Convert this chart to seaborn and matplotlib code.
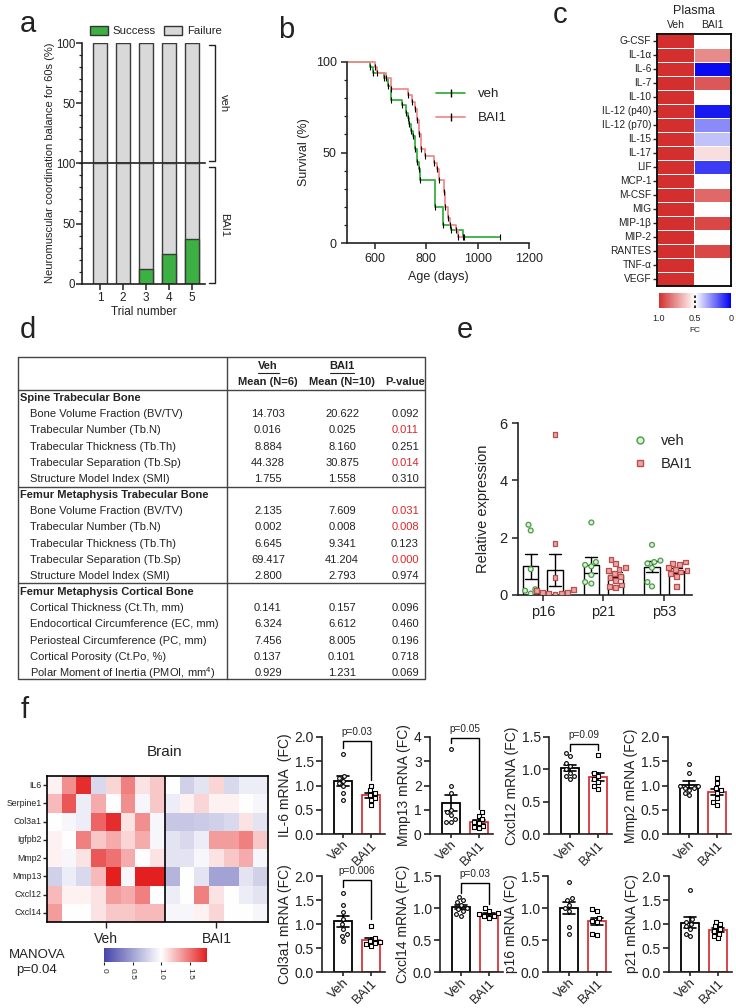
import seaborn as sns
import matplotlib.pyplot as plt
import matplotlib.colors as mcolors
from matplotlib.lines import Line2D
from matplotlib.patches import Patch
from matplotlib.ticker import MultipleLocator, FormatStrFormatter
import numpy as np
import pandas as pd

W, H = 736, 1008

# ---- a: balance test ----
trials = [1, 2, 3, 4, 5]
veh_success = [0, 0, 0, 0, 0]
veh_failure = [100, 100, 100, 100, 100]
bai_success = [0, 0, 12.5, 25, 37.5]
bai_failure = [100, 100, 87.5, 75, 62.5]

# ---- b: survival ----
veh_days = [492, 583, 593, 635, 650, 663, 707, 720, 728, 735, 742, 750, 757, 764, 771, 777, 835, 866, 898, 943, 1088]
veh_surv = [100, 97, 94, 91, 87, 79, 76, 72, 69, 66, 62, 59, 52, 45, 41, 35, 20, 10, 7, 3.5, 3.5]
bai_days = [492, 600, 610, 644, 663, 730, 743, 758, 765, 771, 781, 797, 832, 841, 851, 868, 874, 883, 892, 915, 922, 948]
bai_surv = [100, 97, 94, 91, 85, 82, 78, 74, 68, 60, 52, 48, 44, 41, 35, 28, 20, 14, 10, 7, 3.5, 3.5]

# ---- c: plasma cytokines (FC) ----
cytokines = ['G-CSF', 'IL-1α', 'IL-6', 'IL-7', 'IL-10', 'IL-12 (p40)', 'IL-12 (p70)', 'IL-15', 'IL-17',
             'LIF', 'MCP-1', 'M-CSF', 'MIG', 'MIP-1β', 'MIP-2', 'RANTES', 'TNF-α', 'VEGF']
plasma_veh = [1.0, 1.0, 1.0, 1.0, 1.0, 1.0, 1.0, 1.0, 1.0, 1.0, 1.0, 1.0, 1.0, 1.0, 1.0, 1.0, 1.0, 1.0]
plasma_bai = [0.5, 0.78, 0.02, 0.9, 0.5, 0.05, 0.27, 0.38, 0.58, 0.12, 0.5, 0.86, 0.5, 0.94, 0.5, 0.94, 0.5, 0.5]

# ---- d: micro-CT table ----
sections = ['Spine Trabecular Bone', 'Femur Metaphysis Trabecular Bone', 'Femur Metaphysis Cortical Bone']
trab_params = ['Bone Volume Fraction (BV/TV)', 'Trabecular Number (Tb.N)', 'Trabecular Thickness (Tb.Th)',
               'Trabecular Separation (Tb.Sp)', 'Structure Model Index (SMI)']
cort_params = ['Cortical Thickness (Ct.Th, mm)', 'Endocortical Circumference (EC, mm)',
               'Periosteal Circumference (PC, mm)', 'Cortical Porosity (Ct.Po, %)',
               'Polar Moment of Inertia (PMOI, mm$^4$)']
spine_veh = ['14.703', '0.016', '8.884', '44.328', '1.755']
spine_bai = ['20.622', '0.025', '8.160', '30.875', '1.558']
spine_p = ['0.092', '0.011', '0.251', '0.014', '0.310']
femur_veh = ['2.135', '0.002', '6.645', '69.417', '2.800']
femur_bai = ['7.609', '0.008', '9.341', '41.204', '2.793']
femur_p = ['0.031', '0.008', '0.123', '0.000', '0.974']
cort_veh = ['0.141', '6.324', '7.456', '0.137', '0.929']
cort_bai = ['0.157', '6.612', '8.005', '0.101', '1.231']
cort_p = ['0.096', '0.460', '0.196', '0.718', '0.069']

# ---- e: senescence markers ----
e_genes = ['p16', 'p21', 'p53']
p16_veh = [2.45, 2.25, 0.9, 0.2, 0.15, 0.05]
p16_bai = [5.6, 1.8, 0.6, 0.2, 0.15, 0.1, 0.1, 0.05, 0.05, 0.03]
p21_veh = [2.53, 1.15, 1.05, 1.0, 0.7, 0.45, 0.4]
p21_bai = [1.25, 1.1, 0.95, 0.9, 0.85, 0.75, 0.65, 0.6, 0.5, 0.35, 0.3, 0.25]
p53_veh = [1.75, 1.2, 1.15, 1.1, 0.95, 0.45, 0.3]
p53_bai = [1.15, 1.1, 1.05, 0.95, 0.9, 0.85, 0.8, 0.75, 0.65, 0.3]

# ---- f: brain heatmap ----
brain_genes = ['IL6', 'Serpine1', 'Col3a1', 'Igfpb2', 'Mmp2', 'Mmp13', 'Cxcl12', 'Cxcl14']
brain_veh = [[1.05, 1.4, 1.75, 0.8, 1.15, 1.45, 1.1, 1.2],
             [1.25, 1.6, 0.9, 1.3, 1.0, 1.4, 0.95, 1.2],
             [1.0, 0.95, 0.9, 1.55, 1.75, 1.1, 1.4, 0.95],
             [1.05, 1.0, 1.45, 1.2, 1.3, 1.15, 1.3, 0.95],
             [1.05, 0.95, 1.1, 1.6, 1.5, 1.3, 1.0, 1.1],
             [0.75, 0.9, 0.8, 1.25, 1.8, 0.95, 1.8, 1.8],
             [1.25, 1.05, 1.05, 1.1, 1.35, 1.3, 1.45, 1.0],
             [1.35, 1.0, 1.0, 1.1, 1.2, 1.2, 1.25, 1.25]]
brain_bai = [[1.0, 0.75, 0.85, 1.15, 0.8, 0.9, 0.9],
             [0.9, 1.05, 1.15, 1.05, 1.05, 1.0, 0.95],
             [0.7, 0.7, 0.72, 0.75, 0.8, 1.1, 0.85],
             [0.85, 0.8, 0.9, 1.35, 1.35, 1.45, 1.2],
             [0.85, 0.85, 0.95, 1.1, 1.2, 1.3, 0.95],
             [0.6, 1.0, 0.85, 0.5, 0.5, 0.85, 0.75],
             [0.9, 1.0, 1.45, 1.1, 1.0, 0.9, 0.85],
             [0.95, 0.95, 1.05, 1.15, 1.0, 1.0, 0.95]]

# ---- f: qPCR bars ----
il6_veh = [1.65, 1.2, 1.15, 1.1, 1.05, 1.0, 0.85, 0.7]
il6_bai = [1.0, 0.9, 0.85, 0.8, 0.75, 0.7, 0.6]
mmp13_veh = [3.5, 2.0, 1.7, 1.0, 0.9, 0.8, 0.6, 0.5, 0.5]
mmp13_bai = [0.9, 0.75, 0.6, 0.5, 0.45, 0.35, 0.3, 0.25]
cxcl12_veh = [1.25, 1.2, 1.1, 1.05, 1.0, 0.95, 0.9, 0.9, 0.85]
cxcl12_bai = [1.22, 0.95, 0.9, 0.85, 0.8, 0.75, 0.7]
mmp2_veh = [1.45, 1.25, 1.0, 1.0, 0.95, 0.95, 0.9, 0.85, 0.8]
mmp2_bai = [1.15, 1.05, 0.95, 0.9, 0.85, 0.75, 0.65, 0.6]
col3a1_veh = [1.65, 1.4, 1.25, 1.1, 1.0, 0.9, 0.8, 0.75, 0.65]
col3a1_bai = [0.95, 0.7, 0.65, 0.62, 0.6, 0.58, 0.55]
cxcl14_veh = [1.17, 1.12, 1.1, 1.05, 1.0, 0.98, 0.95, 0.9, 0.88]
cxcl14_bai = [1.0, 0.95, 0.92, 0.9, 0.88, 0.87, 0.85]
p16m_veh = [1.4, 1.15, 1.12, 1.05, 1.0, 0.95, 0.7, 0.6]
p16m_bai = [0.98, 0.95, 0.85, 0.8, 0.78, 0.6, 0.58]
p21m_veh = [1.7, 1.1, 1.05, 1.0, 0.95, 0.9, 0.8, 0.75]
p21m_bai = [1.05, 1.0, 0.95, 0.9, 0.85, 0.8, 0.75, 0.7]

GREEN = '#3cb043'
PINK = '#f08c8c'
DARK = '#222222'

sns.set_theme(style='ticks')
plt.rcParams['font.family'] = ['Liberation Sans', 'DejaVu Sans']
plt.rcParams['mathtext.fontset'] = 'custom'
plt.rcParams['mathtext.rm'] = 'Liberation Sans'
plt.rcParams['axes.linewidth'] = 1.2
plt.rcParams['axes.edgecolor'] = DARK
plt.rcParams['xtick.color'] = DARK
plt.rcParams['ytick.color'] = DARK
plt.rcParams['text.color'] = DARK
plt.rcParams['axes.labelcolor'] = DARK

fig = plt.figure(figsize=(W / 100, H / 100), dpi=100)


def pax(x0, y0, x1, y1):
    ax = fig.add_axes([x0 / W, 1 - y1 / H, (x1 - x0) / W, (y1 - y0) / H])
    ax.set_facecolor('none')
    return ax


# ================= a =================
ax_top = pax(82, 43, 205, 163)
ax_bot = pax(82, 163, 205, 284)
for ax, succ, fail in [(ax_top, veh_success, veh_failure), (ax_bot, bai_success, bai_failure)]:
    df = pd.DataFrame({'trial': trials, 'success': succ, 'failure': fail})
    df['total'] = df['success'] + df['failure']
    sns.barplot(data=df, x='trial', y='total', color='#d9d9d9', edgecolor='#3a3a3a', linewidth=1,
                width=0.6, saturation=1, errorbar=None, ax=ax)
    sns.barplot(data=df, x='trial', y='success', color=GREEN, edgecolor='#3a3a3a', linewidth=1,
                width=0.6, saturation=1, errorbar=None, ax=ax)
    ax.set_xlim(-0.78, 4.57)
    ax.set_ylim(0, 100)
    ax.set_xlabel('')
    ax.set_ylabel('')
    ax.yaxis.set_minor_locator(MultipleLocator(10))
    ax.tick_params(axis='y', which='major', labelsize=8.3, length=4, width=1.1, pad=0.8)
    ax.tick_params(axis='y', which='minor', length=2, width=0.9)
    sns.despine(ax=ax)
ax_top.set_yticks([50, 100])
ax_top.set_xticks([])
ax_top.spines['bottom'].set_zorder(5)
ax_bot.set_yticks([0, 50, 100])
ax_bot.tick_params(axis='x', labelsize=8.5, length=4, width=1.1, pad=2)
ax_bot.set_xlabel('Trial number', fontsize=8.5, labelpad=1)

fig.legend([Patch(facecolor=GREEN, edgecolor='#333333'), Patch(facecolor='#d9d9d9', edgecolor='#333333')],
           ['Success', 'Failure'], loc='center left', bbox_to_anchor=(90 / W, 1 - 31 / H), ncol=2,
           frameon=False, fontsize=8.2, handlelength=1.6, handleheight=0.9, handletextpad=0.4,
           columnspacing=0.7, borderaxespad=0, borderpad=0)

# ================= b =================
ax_b = pax(347, 62, 529, 243)
for days, surv, col in [(veh_days, veh_surv, GREEN), (bai_days, bai_surv, PINK)]:
    dfs = pd.DataFrame({'days': days, 'surv': surv})
    sns.lineplot(data=dfs, x='days', y='surv', drawstyle='steps-post', color=col, lw=1.3,
                 estimator=None, sort=False, ax=ax_b)
    sns.scatterplot(data=dfs.iloc[1:], x='days', y='surv', marker='|', color='black', s=18,
                    linewidth=0.8, ax=ax_b, zorder=4)
for ln in ax_b.lines:
    ln.set_clip_on(False)
ax_b.set_xlim(492, 1200)
ax_b.set_ylim(0, 100)
ax_b.set_xticks([600, 800, 1000, 1200])
ax_b.set_yticks([0, 50, 100])
ax_b.yaxis.set_minor_locator(MultipleLocator(10))
ax_b.tick_params(which='major', labelsize=9, length=4, width=1.1)
ax_b.tick_params(which='minor', length=2, width=0.9)
ax_b.set_xlabel('Age (days)', fontsize=9)
ax_b.set_ylabel('Survival (%)', fontsize=9)
sns.despine(ax=ax_b)
ax_b.legend([Line2D([0], [0], color=GREEN, lw=1.3, marker='|', mec='black', ms=6),
             Line2D([0], [0], color=PINK, lw=1.3, marker='|', mec='black', ms=6)],
            ['veh', 'BAI1'], loc='upper left', bbox_to_anchor=(436 / W, 1 - 88 / H),
            bbox_transform=fig.transFigure, frameon=False, fontsize=9.5, handlelength=2.2,
            handletextpad=1.0, labelspacing=0.9, borderaxespad=0, borderpad=0)

# ================= c =================
ax_c = pax(657, 34, 731, 286)
cax_c = pax(659, 293, 731, 308)
df_c = pd.DataFrame({'Veh': plasma_veh, 'BAI1': plasma_bai}, index=cytokines)
cmap_c = mcolors.LinearSegmentedColormap.from_list('fc', ['#0000f0', '#ffffff', '#d42f2f'])
sns.heatmap(df_c, ax=ax_c, cmap=cmap_c, vmin=0, vmax=1, linewidths=0.7, linecolor='white',
            yticklabels=True, xticklabels=True, cbar_ax=cax_c, cbar_kws={'orientation': 'horizontal'})
ax_c.xaxis.tick_top()
ax_c.tick_params(axis='x', length=0, labelsize=7.5, pad=3)
ax_c.tick_params(axis='y', length=3, width=1, labelsize=7.3, pad=1, left=True, labelrotation=0)
for sp in ax_c.spines.values():
    sp.set_visible(True)
    sp.set_linewidth(1.3)
    sp.set_color('black')
cax_c.invert_xaxis()
cax_c.set_xticks([1.0, 0.5, 0])
cax_c.set_xticklabels(['1.0', '0.5', '0'])
cax_c.tick_params(axis='x', length=0, labelsize=6.5, pad=4)
cax_c.axvline(0.5, color='black', lw=1.2, ls=(0, (1.5, 1.5)))

# ================= e =================
ax_e = pax(518, 423, 692, 595)
df_e = pd.DataFrame({
    'gene': ['p16'] * len(p16_veh) + ['p16'] * len(p16_bai) + ['p21'] * len(p21_veh) + ['p21'] * len(p21_bai)
            + ['p53'] * len(p53_veh) + ['p53'] * len(p53_bai),
    'group': ['veh'] * len(p16_veh) + ['BAI1'] * len(p16_bai) + ['veh'] * len(p21_veh) + ['BAI1'] * len(p21_bai)
             + ['veh'] * len(p53_veh) + ['BAI1'] * len(p53_bai),
    'value': p16_veh + p16_bai + p21_veh + p21_bai + p53_veh + p53_bai})
sns.barplot(data=df_e, x='gene', y='value', hue='group', order=e_genes, hue_order=['veh', 'BAI1'],
            errorbar='se', capsize=0.4, width=0.8, gap=0.375, palette={'veh': 'white', 'BAI1': 'white'},
            saturation=1, edgecolor='black', linewidth=1, err_kws={'color': 'black', 'linewidth': 1},
            legend=False, ax=ax_e)
for grp, mk, face, edge in [('veh', 'o', '#d6f2cf', '#4f9a4a'), ('BAI1', 's', '#f0a3a3', '#b5504f')]:
    sns.swarmplot(data=df_e[df_e['group'] == grp], x='gene', y='value', hue='group', order=e_genes,
                  hue_order=['veh', 'BAI1'], dodge=True, palette={'veh': face, 'BAI1': face}, marker=mk,
                  size=3.5, edgecolor=edge, linewidth=0.9, legend=False, ax=ax_e)
ax_e.set_xlim(-0.41, 2.46)
ax_e.set_ylim(0, 6)
ax_e.set_yticks([0, 2, 4, 6])
ax_e.tick_params(labelsize=10.5, length=4, width=1.1)
ax_e.set_xlabel('')
ax_e.set_ylabel('Relative expression', fontsize=10.5, labelpad=7)
sns.despine(ax=ax_e)
ax_e.legend([Line2D([0], [0], ls='', marker='o', mfc='#d6f2cf', mec='#4f9a4a', ms=5),
             Line2D([0], [0], ls='', marker='s', mfc='#f0a3a3', mec='#b5504f', ms=5)],
            ['veh', 'BAI1'], loc='upper left', bbox_to_anchor=(633 / W, 1 - 434 / H),
            bbox_transform=fig.transFigure, frameon=False, fontsize=10.5, handlelength=1,
            handletextpad=0.9, labelspacing=0.6, borderaxespad=0, borderpad=0)

# ================= f heatmap =================
ax_f = pax(47, 776, 268, 922)
cax_f = pax(104, 948, 207, 962)
df_f = pd.DataFrame(np.hstack([np.array(brain_veh), np.array(brain_bai)]), index=brain_genes)
cmap_f = mcolors.LinearSegmentedColormap.from_list(
    'brain', [(0, '#4545a8'), (1 / 1.8, '#ffffff'), (1, '#e41f1f')])
sns.heatmap(df_f, ax=ax_f, cmap=cmap_f, vmin=0, vmax=1.8, cbar_ax=cax_f, yticklabels=True,
            cbar_kws={'orientation': 'horizontal'}, xticklabels=False)
ax_f.axvline(len(brain_veh[0]), color='black', lw=1.2)
for sp in ax_f.spines.values():
    sp.set_visible(True)
    sp.set_linewidth(1.2)
    sp.set_color('black')
ax_f.set_xticks([4, 11.5])
ax_f.set_xticklabels(['Veh', 'BAI1'])
ax_f.tick_params(axis='x', length=4, width=1, labelsize=10, bottom=True)
ax_f.tick_params(axis='y', length=3, width=1, labelsize=6.3, pad=1, left=True, labelrotation=0)
cax_f.set_xticks([0, 0.5, 1.0, 1.5])
cax_f.set_xticklabels(['0', '0.5', '1.0', '1.5'], rotation=-90)
cax_f.tick_params(axis='x', length=2, width=0.8, labelsize=6, pad=2)

# ================= f bars =================
ROW1 = (737, 834)
ROW2 = (876, 972)
bar_panels = [
    (322, ROW1, il6_veh, il6_bai, 'IL-6 mRNA  (FC)', 2.0, 0.5, '%.1f', (1.92, 1.77, 1.12, 'p=0.03')),
    (430, ROW1, mmp13_veh, mmp13_bai, 'Mmp13 mRNA (FC)', 4, 1, '%d', (3.96, 3.75, 1.05, 'p=0.05')),
    (549, ROW1, cxcl12_veh, cxcl12_bai, 'Cxcl12 mRNA (FC)', 1.5, 0.5, '%.1f', (1.39, 1.29, 1.3, 'p=0.09')),
    (668, ROW1, mmp2_veh, mmp2_bai, 'Mmp2 mRNA (FC)', 2.0, 0.5, '%.1f', None),
    (322, ROW2, col3a1_veh, col3a1_bai, 'Col3a1 mRNA (FC)', 2.0, 0.5, '%.1f', (1.92, 1.78, 1.1, 'p=0.006')),
    (440, ROW2, cxcl14_veh, cxcl14_bai, 'Cxcl14 mRNA (FC)', 1.5, 0.5, '%.1f', (1.39, 1.24, 1.07, 'p=0.03')),
    (548, ROW2, p16m_veh, p16m_bai, 'p16 mRNA (FC)', 1.5, 0.5, '%.1f', None),
    (669, ROW2, p21m_veh, p21m_bai, 'p21 mRNA (FC)', 2.0, 0.5, '%.1f', None),
]
for x0, (y0, y1), veh, bai, label, ymax, step, fmt, bracket in bar_panels:
    ax = pax(x0, y0, x0 + 63, y1)
    df = pd.DataFrame({'group': ['Veh'] * len(veh) + ['BAI1'] * len(bai), 'value': veh + bai})
    sns.barplot(data=df, x='group', y='value', order=['Veh', 'BAI1'], errorbar='se', capsize=0.42,
                width=0.63, color='white', saturation=1, edgecolor='black', linewidth=1.3,
                err_kws={'color': 'black', 'linewidth': 1.2}, ax=ax)
    ax.patches[1].set_edgecolor('#d9343a')
    sns.swarmplot(data=df[df['group'] == 'Veh'], x='group', y='value', order=['Veh', 'BAI1'], marker='o',
                  size=2.7, color='white', edgecolor='black', linewidth=0.8, ax=ax)
    sns.swarmplot(data=df[df['group'] == 'BAI1'], x='group', y='value', order=['Veh', 'BAI1'], marker='s',
                  size=2.7, color='white', edgecolor='black', linewidth=0.8, ax=ax)
    ax.set_xlim(-0.75, 1.5)
    ax.set_ylim(0, ymax)
    ax.set_yticks(np.arange(0, ymax + step / 2, step))
    ax.yaxis.set_major_formatter(FormatStrFormatter(fmt))
    ax.tick_params(axis='y', labelsize=10, length=4, width=1.2, pad=2)
    ax.tick_params(axis='x', labelsize=9.5, length=3, width=1.2, pad=0.5)
    plt.setp(ax.get_xticklabels(), rotation=45, ha='right', rotation_mode='anchor')
    ax.set_xlabel('')
    ax.set_ylabel(label, fontsize=10, labelpad=2)
    sns.despine(ax=ax)
    if bracket is not None:
        ytop, yl, yr, ptxt = bracket
        ax.plot([0, 0, 1, 1], [yl, ytop, ytop, yr], color='black', lw=1, clip_on=False)
        ax.text(0.5, ytop + ymax * 0.04, ptxt, ha='center', va='bottom', fontsize=7.2)

# ================= overlay: letters, brackets, table =================
ov = fig.add_axes([0, 0, 1, 1], zorder=10)
ov.set_xlim(0, W)
ov.set_ylim(H, 0)
ov.axis('off')

for lx, ly, letter in [(20, 32, 'a'), (278, 38, 'b'), (553, 23, 'c'), (20, 338, 'd'), (457, 338, 'e'), (21, 718, 'f')]:
    ov.text(lx, ly, letter, fontsize=21, ha='left', va='baseline')

ov.text(50, 163, 'Neuromuscular coordination balance for 60s (%)', rotation=90, fontsize=8,
        ha='center', va='center')
for yt, yb, lab in [(45, 161, 'veh'), (167, 283, 'BAI1')]:
    ov.plot([209, 215, 215, 209], [yt, yt, yb, yb], color=DARK, lw=1)
    ov.text(224, (yt + yb) / 2, lab, rotation=-90, fontsize=8, ha='center', va='center')

ov.text(694, 11, 'Plasma', fontsize=9, ha='center', va='center')
ov.text(695, 331, 'FC', fontsize=6, ha='center', va='center')

ov.text(165, 752, 'Brain', fontsize=11, ha='center', va='center')
ov.text(37, 955, 'MANOVA', fontsize=9.5, ha='center', va='center')
ov.text(37, 970, 'p=0.04', fontsize=9.5, ha='center', va='center')

# table
TL, TR, TV, TT, TB = 18, 425, 227, 357, 679
ov.plot([TL, TR, TR, TL, TL], [TT, TT, TB, TB, TT], color='#444444', lw=1)
ov.plot([TV, TV], [TT, TB], color='#444444', lw=1)
for yl in [390, 487, 583]:
    ov.plot([TL, TR], [yl, yl], color='#444444', lw=1)
CV, CB, CP = 268, 342, 405
TS = 8.0
ov.text(CV, 366, 'Veh', fontsize=TS, fontweight='bold', ha='center', va='center')
ov.text(CB, 366, 'BAI1', fontsize=TS, fontweight='bold', ha='center', va='center')
ov.plot([258, 279], [372.5, 372.5], color=DARK, lw=0.8)
ov.plot([330, 354], [372.5, 372.5], color=DARK, lw=0.8)
ov.text(CV, 382, 'Mean (N=6)', fontsize=TS, fontweight='bold', ha='center', va='center')
ov.text(CB, 382, 'Mean (N=10)', fontsize=TS, fontweight='bold', ha='center', va='center')
ov.text(CP, 382, 'P-value', fontsize=TS, fontweight='bold', ha='center', va='center')
blocks = [(398, trab_params, spine_veh, spine_bai, spine_p),
          (495, trab_params, femur_veh, femur_bai, femur_p),
          (592, cort_params, cort_veh, cort_bai, cort_p)]
for (ys, params, vv, vb, pv), sec in zip(blocks, sections):
    ov.text(20, ys, sec, fontsize=TS, fontweight='bold', ha='left', va='center')
    for i in range(len(params)):
        yy = ys + 16.2 * (i + 1)
        ov.text(30, yy, params[i], fontsize=TS, ha='left', va='center')
        ov.text(CV, yy, vv[i], fontsize=TS, ha='center', va='center')
        ov.text(CB, yy, vb[i], fontsize=TS, ha='center', va='center')
        ov.text(CP, yy, pv[i], fontsize=TS, ha='center', va='center',
                color='#d9262b' if float(pv[i]) < 0.05 else DARK)

fig.savefig('out.png', dpi=100)
